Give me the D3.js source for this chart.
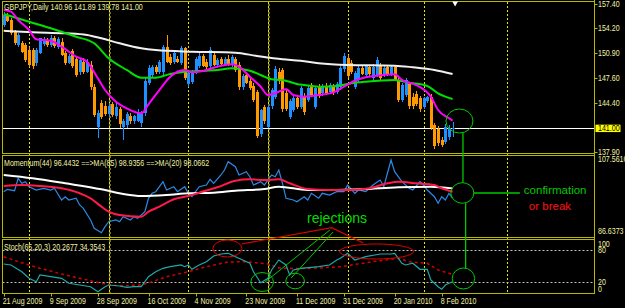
<!DOCTYPE html>
<html>
<head>
<meta charset="utf-8">
<script src="https://cdn.jsdelivr.net/npm/d3@7"></script>
<style>
  body { margin: 0; background: #000; }
  svg { display: block; }
</style>
</head>
<body>
<div id="graf"></div>
<script>
// GBPJPY daily candles, [open, high, low, close]
const ohlc = [
  [154.7,156.4,154.4,156.0],[155.9,156.3,155.0,155.2],[155.3,155.6,153.3,153.6],[153.7,154.0,152.0,152.3],
  [152.0,153.6,151.8,153.3],[152.3,152.6,150.9,151.1],[152.0,152.3,149.8,150.0],[151.4,151.8,149.1,149.4],
  [151.3,151.6,148.8,149.2],[149.6,151.6,149.3,151.3],[151.0,153.0,150.8,152.9],[152.2,153.1,151.9,152.7],
  [152.7,153.0,151.8,152.0],[152.0,153.3,151.7,153.0],[153.0,153.2,151.6,151.9],[151.8,153.1,151.5,152.8],
  [152.4,152.9,150.5,150.7],[150.9,151.2,149.4,149.7],[149.7,150.8,149.5,150.5],[151.2,151.5,149.0,149.2],
  [150.2,150.6,147.8,148.1],[148.4,150.2,148.1,150.0],[149.8,150.3,148.2,148.5],[148.5,150.1,148.3,149.8],
  [149.4,149.9,146.1,146.4],[146.4,146.8,142.5,142.8],[141.2,143.4,139.7,143.0],[144.3,144.7,142.2,142.5],
  [144.0,144.6,142.6,142.9],[142.9,144.3,142.5,144.0],[144.2,144.5,142.5,142.8],[142.6,144.3,142.2,143.8],
  [143.5,143.8,141.0,141.5],[141.2,142.2,139.5,141.9],[141.4,143.2,141.0,142.9],[142.6,143.0,141.6,141.9],
  [141.9,142.8,141.5,142.6],[142.0,143.5,141.8,143.1],[141.7,143.3,141.2,142.9],[143.0,147.6,142.6,147.3],
  [147.0,149.4,146.7,149.0],[148.0,149.4,147.8,149.1],[149.1,149.4,148.2,148.5],[148.5,150.0,148.2,149.8],
  [148.4,152.0,148.1,151.8],[151.8,153.3,149.6,149.8],[150.4,150.8,149.4,149.6],[149.8,151.3,149.5,151.0],
  [150.2,150.6,149.6,149.8],[149.7,151.9,149.4,151.6],[151.6,151.8,147.4,147.7],[146.8,148.6,146.4,148.3],
  [147.1,148.7,146.8,148.4],[148.5,150.4,148.2,150.2],[149.2,150.9,149.0,150.6],[150.5,150.8,149.1,149.3],
  [149.8,150.2,148.9,149.1],[149.2,151.7,148.9,151.4],[150.7,151.0,149.2,149.4],[149.4,150.3,149.1,150.0],
  [150.1,150.4,149.2,149.5],[149.4,150.4,149.2,150.1],[150.2,150.7,149.3,149.5],[149.4,150.7,149.1,150.4],
  [150.1,150.4,148.5,148.7],[149.4,149.8,146.1,146.4],[146.5,148.2,146.1,147.9],[148.0,148.3,146.8,147.0],
  [147.2,147.6,146.0,146.3],[146.6,147.0,144.5,144.8],[145.8,146.1,139.7,140.0],[140.3,143.6,139.8,143.4],
  [143.8,144.1,141.6,141.9],[141.2,144.1,141.0,143.8],[143.9,146.3,143.6,146.0],[145.2,149.3,144.9,148.9],
  [148.5,149.0,146.8,147.2],[148.7,149.0,143.2,143.5],[145.7,146.0,143.3,143.6],[142.5,144.9,142.2,144.6],
  [143.4,145.3,143.1,145.0],[145.0,145.3,143.5,143.8],[143.8,146.6,143.5,146.3],[145.2,145.6,142.8,143.1],
  [144.8,146.6,144.5,146.3],[146.7,147.0,145.1,145.4],[143.8,146.6,143.5,146.3],[146.6,146.9,145.0,145.3],
  [145.6,146.8,145.3,146.6],[146.6,147.0,145.4,145.6],[145.8,147.0,145.5,146.7],[146.6,146.9,145.4,145.7],
  [145.8,147.1,145.5,146.8],[146.5,149.3,146.2,149.0],[148.8,150.9,148.5,150.6],[150.3,150.7,147.6,147.9],
  [149.6,150.0,148.2,148.5],[146.5,148.6,146.2,148.3],[147.4,149.3,147.0,149.0],[149.0,149.3,148.0,148.2],
  [148.1,149.4,147.8,149.2],[149.1,149.4,147.9,148.2],[147.6,149.5,147.3,149.1],[148.0,150.4,147.8,150.0],
  [149.2,149.6,147.3,147.6],[148.0,149.2,147.8,149.0],[149.1,149.4,147.9,148.1],[148.1,149.3,147.9,149.1],
  [149.1,149.4,147.2,147.4],[147.4,147.7,144.5,144.8],[144.8,147.0,144.5,146.7],[145.4,147.7,145.1,147.4],
  [146.8,147.1,143.6,143.9],[145.2,145.6,143.6,143.9],[145.5,145.9,143.9,144.2],[145.0,145.3,143.2,143.5],
  [143.8,145.2,143.5,145.0],[144.6,145.3,144.3,145.1],[145.2,145.5,140.8,141.1],[141.4,141.7,138.3,138.7],
  [140.9,141.3,138.7,139.0],[139.5,139.9,138.5,138.8],[139.2,141.6,138.9,141.2],[139.8,141.4,139.5,141.0],
  [140.96,141.89,139.78,141.00]
];

// moving averages on price, [bar, value]
const maSlow = [[0,153.9],[8,153.7],[17,153.56],[23,153.34],[27,152.9],[32,152.24],[38,151.58],[42,151.35],
  [52,151.13],[64,151.0],[70,150.56],[77,150.12],[82,149.94],[87,149.6],[95,149.37],[108,149.28],
  [113,149.07],[119,148.71],[124,148.18]];
const maMid = [[0,156.12],[7,155.1],[13,154.23],[20,153.11],[25,152.24],[29,150.26],[34,148.71],[38,147.69],
  [42,147.69],[46,148.18],[50,148.48],[54,148.58],[59,148.71],[63,148.93],[68,148.62],[71,148.05],
  [74,147.48],[77,147.39],[81,146.86],[83,146.72],[87,146.5],[92,146.59],[96,146.95],[100,147.16],
  [108,147.39],[112,147.03],[117,146.59],[120,145.63],[124,144.87]];
const maFast = [[0,156.65],[2,156.42],[4,155.32],[7,154.0],[9,152.77],[13,152.59],[16,151.79],[20,150.47],
  [23,149.81],[26,147.61],[28,146.06],[31,144.52],[34,143.64],[38,142.98],[40,144.17],[43,146.06],
  [46,147.82],[48,148.48],[50,148.71],[52,148.4],[55,148.58],[59,149.15],[63,149.46],[65,149.15],
  [68,147.82],[71,146.5],[73,145.4],[75,145.63],[78,146.16],[80,145.4],[83,145.18],[87,145.4],
  [91,145.71],[94,146.5],[97,147.29],[100,147.74],[105,148.05],[108,148.14],[110,147.39],[114,146.72],
  [118,145.18],[120,143.42],[123,142.32],[124,142.0]];

// Momentum(44) and its averages
const momentum = [[0,98.08],[1,98.7],[3,98.34],[4,101.54],[5,100.25],[6,100.67],[7,99.37],[9,98.52],
  [11,98.96],[13,98.52],[14,98.96],[16,95.94],[17,96.79],[18,95.94],[20,96.38],[21,94.65],[22,93.79],
  [24,90.77],[25,88.63],[27,87.49],[28,89.04],[29,90.33],[31,90.77],[32,90.33],[33,91.63],[35,90.77],
  [36,91.63],[37,91.21],[39,92.92],[40,96.38],[41,97.67],[42,98.08],[44,100.67],[45,98.52],[47,99.37],
  [48,98.08],[50,99.37],[51,97.67],[52,96.79],[53,98.08],[54,99.37],[56,99.81],[57,101.29],[58,100.25],
  [60,102.4],[61,103.69],[62,105.83],[64,104.54],[65,102.4],[67,103.25],[68,101.96],[69,99.81],
  [71,100.67],[72,99.81],[74,102.4],[75,101.96],[76,103.69],[77,100.25],[78,96.38],[80,95.94],
  [81,95.5],[83,96.79],[84,95.94],[85,97.67],[87,96.38],[88,97.67],[90,97.23],[92,98.08],[94,98.08],
  [95,99.81],[97,97.67],[98,98.52],[100,98.08],[102,99.81],[104,101.1],[105,99.37],[106,102.84],
  [107,106.27],[108,103.25],[109,101.96],[110,100.67],[112,98.96],[113,98.52],[115,100.67],[116,99.81],
  [117,98.52],[119,96.79],[120,95.09],[121,96.79],[122,95.94],[123,97.67],[124,96.44]];
const momMA85 = [[0,102.4],[8,101.54],[17,100.25],[27,98.7],[33,97.49],[38,96.97],[45,97.23],[51,97.67],
  [58,97.82],[64,98.34],[72,98.78],[76,99.37],[84,98.52],[90,98.52],[99,98.7],[109,99.22],[118,99.37],
  [124,98.94]];
const momMA20 = [[0,99.56],[5,99.81],[10,99.56],[16,98.96],[21,97.67],[24,96.38],[27,94.21],[29,92.92],
  [32,92.06],[38,91.63],[40,92.92],[43,94.21],[47,96.12],[51,96.97],[54,97.82],[59,99.22],[64,100.92],
  [68,101.29],[72,101.1],[76,101.29],[79,100.25],[84,98.78],[90,98.52],[96,98.52],[101,98.96],
  [106,100.25],[109,100.67],[114,100.25],[119,99.81],[121,98.96],[124,98.07]];
const momRange = [86.6373, 107.5616];

// Stochastic(65,20,3)
const stochMain = [[0,53.7],[2,51.9],[5,39.3],[7,27],[9,20.6],[10,33.1],[13,30],[16,27],[18,17.6],
  [21,14.4],[24,11.2],[26,1.9],[28,11.2],[29,14.4],[32,12.5],[34,10.1],[36,11.2],[38,11.2],[40,30],
  [42,39.3],[44,45.7],[46,48.7],[49,51.9],[50,48.7],[51,51.9],[52,43.8],[54,51.9],[56,58.1],[58,68.7],
  [60,72.5],[62,73.8],[64,67.4],[66,61.2],[68,55.1],[69,39.3],[71,18.7],[73,27],[74,42.5],[76,61.2],
  [78,51.9],[79,33],[80,42.5],[82,45.7],[85,47.6],[87,48.7],[90,51.9],[92,61.2],[93,64.4],[95,73.8],
  [97,61.2],[100,67.4],[104,72.5],[107,72.5],[108,73.8],[110,55.1],[111,51.9],[113,55.1],[115,43.8],
  [117,43.8],[118,23.8],[120,11.2],[121,6.4],[122,14.4],[123,17.6],[124,20.27]];
const stochSignal = [[0,67.4],[4,58.1],[10,45.7],[16,35],[21,27],[27,17.6],[32,12.5],[38,14.4],[41,20.6],
  [45,30],[51,39.3],[56,48.7],[62,57.5],[67,58.1],[73,53.7],[76,46.3],[81,45.3],[87,46.3],[93,48.7],
  [102,58.1],[109,64.4],[112,58.1],[117,55.1],[120,42.5],[123,36.3],[124,34.35]];
const stochLevels = [20, 80];
const stochTicks = [100, 80, 20, 0];

// axes
const priceTicks = [157.40, 154.20, 150.90, 147.60, 144.40, 137.90];
const lastPrice = 141.00;
const dateLabels = ["21 Aug 2009","9 Sep 2009","28 Sep 2009","16 Oct 2009","4 Nov 2009",
  "23 Nov 2009","11 Dec 2009","31 Dec 2009","20 Jan 2010","8 Feb 2010"];
const dateBars = [0, 13, 26, 40, 53, 67, 81, 94, 108, 121];
const monthBars = [7, 29, 51, 73, 95, 116, 139];

const titleText = "GBPJPY,Daily  140.96 141.89 139.78 141.00";
const momText = "Momentum(44) 96.4432  ==>MA(85) 98.9356  ==>MA(20) 98.0662";
const stochText = "Stoch(65,20,3) 20.2677 34.3543";

const width = 625, height = 308;
const left = 2.5, right = 594.5;
const pane = {
  price: {top: 1.5, bottom: 153.5},
  mom: {top: 155.5, bottom: 237.5},
  stoch: {top: 239.5, bottom: 293.5}
};
const frameCol = "#b8b800", textCol = "#f2f2a6";
const bullCol = "#1e90ff", bearCol = "#ff9900";

const x = d3.scaleLinear().domain([0, 163]).range([3.7, 593.76]);
const yP = d3.scaleLinear().domain([137.9, 157.4]).range([151.7, 4.3]);
const yM = d3.scaleLinear().domain(momRange).range([236, 155]);
const yS = d3.scaleLinear().domain([0, 100]).range([292.7, 239.3]);

const svg = d3.select("#graf").append("svg")
    .attr("width", width).attr("height", height)
    .style("background", "#000");

const defs = svg.append("defs");
Object.entries(pane).forEach(([k, p]) => {
  defs.append("clipPath").attr("id", "clip-" + k)
    .append("rect").attr("x", left).attr("y", p.top)
    .attr("width", right - left).attr("height", p.bottom - p.top);
});

// squeeze MT4 style system text a bit narrower
const squeeze = (sel, k = 0.83) => sel.each(function () {
  const w = this.getComputedTextLength();
  this.setAttribute("textLength", w * k);
  this.setAttribute("lengthAdjust", "spacingAndGlyphs");
});
const label = (g, txt, px, py, col = textCol, anchor = "start") => g.append("text")
    .attr("x", px).attr("y", py).attr("dy", "0.35em")
    .attr("fill", col).attr("text-anchor", anchor)
    .attr("font-family", "Liberation Sans, Arial, sans-serif").attr("font-size", 8.5)
    .text(txt).call(squeeze);

// period separators
const sep = svg.append("g").attr("shape-rendering", "crispEdges");
sep.selectAll("line.olive").data([monthBars[1], monthBars[3]]).join("line")
    .attr("x1", d => Math.round(x(d)) + 0.5).attr("x2", d => Math.round(x(d)) + 0.5)
    .attr("y1", pane.price.top).attr("y2", pane.stoch.bottom)
    .attr("stroke", "#77771a").attr("stroke-width", 2)
    .attr("stroke-dasharray", "2,2").attr("stroke-dashoffset", 2);
sep.selectAll("line.sep").data(monthBars).join("line")
    .attr("x1", d => Math.round(x(d)) + 0.5).attr("x2", d => Math.round(x(d)) + 0.5)
    .attr("y1", pane.price.top).attr("y2", pane.stoch.bottom)
    .attr("stroke", "#e6e600").attr("stroke-dasharray", "2,2");

// ---- price pane
const gp = svg.append("g").attr("clip-path", "url(#clip-price)");
const line = (xs, ys) => d3.line().x(d => xs(d[0])).y(d => ys(d[1]));

gp.append("line")
    .attr("x1", left).attr("x2", right)
    .attr("y1", Math.round(yP(lastPrice)) + 0.5).attr("y2", Math.round(yP(lastPrice)) + 0.5)
    .attr("stroke", "#fff");

const candles = gp.append("g").attr("shape-rendering", "crispEdges");
candles.selectAll("line").data(ohlc).join("line")
    .attr("x1", (d, i) => Math.round(x(i)) + 0.5).attr("x2", (d, i) => Math.round(x(i)) + 0.5)
    .attr("y1", d => yP(d[1])).attr("y2", d => yP(d[2]))
    .attr("stroke", d => d[3] >= d[0] ? bullCol : bearCol);
candles.selectAll("rect").data(ohlc).join("rect")
    .attr("x", (d, i) => Math.round(x(i)) - 1).attr("width", 3)
    .attr("y", d => yP(Math.max(d[0], d[3])))
    .attr("height", d => Math.max(1, yP(Math.min(d[0], d[3])) - yP(Math.max(d[0], d[3]))))
    .attr("fill", d => d[3] >= d[0] ? bullCol : bearCol);

[[maSlow, "#f0f0f0"], [maMid, "#00e000"], [maFast, "#ff00ff"]].forEach(([s, c]) => {
  gp.append("path").attr("d", line(x, yP).curve(d3.curveMonotoneX)(s))
    .attr("fill", "none").attr("stroke", c).attr("stroke-width", 2);
});

// ---- momentum pane
const gm = svg.append("g").attr("clip-path", "url(#clip-mom)");
gm.append("path").attr("d", line(x, yM)(momentum))
    .attr("fill", "none").attr("stroke", "#2b8ae6").attr("stroke-width", 1.2);
gm.append("path").attr("d", line(x, yM).curve(d3.curveMonotoneX)(momMA85))
    .attr("fill", "none").attr("stroke", "#ffffff").attr("stroke-width", 2);
gm.append("path").attr("d", line(x, yM).curve(d3.curveMonotoneX)(momMA20))
    .attr("fill", "none").attr("stroke", "#ff1a4a").attr("stroke-width", 2);

// ---- stochastic pane
const gs = svg.append("g").attr("clip-path", "url(#clip-stoch)");
gs.selectAll("line").data(stochLevels).join("line")
    .attr("x1", left).attr("x2", right)
    .attr("y1", d => Math.round(yS(d)) + 0.5).attr("y2", d => Math.round(yS(d)) + 0.5)
    .attr("stroke", "#c0c0c0").attr("stroke-dasharray", "2,2");
gs.append("path").attr("d", line(x, yS)(stochSignal))
    .attr("fill", "none").attr("stroke", "#d40000").attr("stroke-width", 1.5)
    .attr("stroke-dasharray", "3,3");
gs.append("path").attr("d", line(x, yS)(stochMain))
    .attr("fill", "none").attr("stroke", "#20a8a8").attr("stroke-width", 1.2);

// ---- frames and axes
const frame = svg.append("g").attr("fill", "none").attr("stroke", frameCol)
    .attr("shape-rendering", "crispEdges");
Object.values(pane).forEach(p => {
  frame.append("rect").attr("x", left).attr("y", p.top)
    .attr("width", right - left).attr("height", p.bottom - p.top);
});
frame.append("line").attr("x1", right).attr("x2", right).attr("y1", 0).attr("y2", pane.stoch.bottom);

const ax = svg.append("g");
priceTicks.forEach(v => {
  ax.append("line").attr("x1", right).attr("x2", right + 3)
    .attr("y1", Math.round(yP(v)) + 0.5).attr("y2", Math.round(yP(v)) + 0.5).attr("stroke", frameCol);
  label(ax, v.toFixed(2), right + 3.5, yP(v));
});
ax.append("rect").attr("x", right + 1).attr("y", yP(lastPrice) - 3.6)
    .attr("width", 25).attr("height", 7.4).attr("fill", "#ffff00");
label(ax, lastPrice.toFixed(2), right + 3.5, yP(lastPrice), "#000");

label(ax, momRange[1].toFixed(4), right + 3.5, yM(momRange[1]) + 4);
label(ax, momRange[0].toFixed(4), right + 3.5, yM(momRange[0]) - 5);

stochTicks.forEach(v => {
  const py = v === 100 ? yS(v) + 4.5 : v === 0 ? yS(v) - 4 : yS(v);
  label(ax, String(v), right + 3.5, py);
});

dateBars.forEach((b, k) => {
  ax.append("line").attr("x1", Math.round(x(b)) + 0.5).attr("x2", Math.round(x(b)) + 0.5)
    .attr("y1", pane.stoch.bottom).attr("y2", pane.stoch.bottom + 3).attr("stroke", frameCol);
  label(ax, dateLabels[k], Math.max(1.5, x(b) - 1), 301);
});

label(ax, titleText, 4, 7.3);
label(ax, momText, 4, 163.3);
label(ax, stochText, 4, 246.7);

// shift marker
ax.append("path").attr("d", d3.symbol(d3.symbolTriangle, 14)())
    .attr("transform", `translate(${x(124.7)},3.2) rotate(180)`).attr("fill", "#fff");

// ---- annotations drawn on the chart
const green = "#00c800", red = "#e00000";
const ann = svg.append("g").attr("fill", "none");

const ringTop = [125.9, 141.96], ringMom = [126.7, 97.75], ringSt = [127, 26.6];
const ringRej1 = [71.4, 20], ringRej2 = [80.5, 21.9];
const redOval1 = [61.8, 82.8], redOval2 = [103, 77.2];

ann.append("ellipse").attr("cx", x(ringTop[0])).attr("cy", yP(ringTop[1])).attr("rx", 13.5).attr("ry", 12)
    .attr("stroke", green);
ann.append("ellipse").attr("cx", x(ringMom[0])).attr("cy", yM(ringMom[1])).attr("rx", 11.5).attr("ry", 10.3)
    .attr("stroke", green);
ann.append("ellipse").attr("cx", x(ringSt[0])).attr("cy", yS(ringSt[1])).attr("rx", 11.2).attr("ry", 10.5)
    .attr("stroke", green);
ann.append("ellipse").attr("cx", x(ringRej1[0])).attr("cy", yS(ringRej1[1])).attr("rx", 11.3).attr("ry", 9.5)
    .attr("stroke", green);
ann.append("ellipse").attr("cx", x(ringRej2[0])).attr("cy", yS(ringRej2[1])).attr("rx", 9.3).attr("ry", 7.8)
    .attr("stroke", green);

// connectors between the three rings
ann.append("line").attr("x1", x(ringTop[0]) + 3.5).attr("x2", x(ringTop[0]) + 3.5)
    .attr("y1", yP(ringTop[1]) + 12).attr("y2", yM(ringMom[1]) - 10.3).attr("stroke", green).attr("stroke-width", 1.3);
ann.append("line").attr("x1", x(ringMom[0]) + 3.3).attr("x2", x(ringMom[0]) + 3.3)
    .attr("y1", yM(ringMom[1]) + 10.3).attr("y2", yS(ringSt[1]) - 10.5).attr("stroke", green).attr("stroke-width", 1.3);
ann.append("line").attr("x1", x(ringMom[0]) + 11.5).attr("x2", x(ringMom[0]) + 57.5)
    .attr("y1", yM(ringMom[1])).attr("y2", yM(ringMom[1])).attr("stroke", green).attr("stroke-width", 1.3);

ann.append("text").attr("x", x(ringMom[0]) + 61.5).attr("y", yM(98.52)).attr("dy", "0.35em")
    .attr("fill", green).attr("font-family", "Liberation Sans, Arial, sans-serif").attr("font-size", 11.5)
    .text("confirmation");
ann.append("text").attr("x", x(ringMom[0]) + 66.5).attr("y", yM(94.47)).attr("dy", "0.35em")
    .attr("fill", "#ff1010").attr("font-family", "Liberation Sans, Arial, sans-serif").attr("font-size", 11.5)
    .text("or break");

// rejections
ann.append("ellipse").attr("cx", x(redOval1[0])).attr("cy", yS(redOval1[1])).attr("rx", 14.5).attr("ry", 8.5)
    .attr("stroke", red);
ann.append("ellipse").attr("cx", x(redOval2[0])).attr("cy", yS(redOval2[1])).attr("rx", 37).attr("ry", 7.5)
    .attr("stroke", red);
ann.append("path")
    .attr("d", line(x, yS)([[65.7, 91.2], [90.6, 121.7], [99.3, 93]]))
    .attr("stroke", red).attr("stroke-width", 1.2);
ann.append("path")
    .attr("d", line(x, yS)([[72.2, 20], [90.1, 117.4]]))
    .attr("stroke", green);
ann.append("path")
    .attr("d", line(x, yS)([[79.4, 27.5], [91, 113.7]]))
    .attr("stroke", green);
ann.append("text").attr("x", x(83.8)).attr("y", yM(91.37)).attr("dy", "0.35em")
    .attr("fill", "#00dd00").attr("font-family", "Liberation Sans, Arial, sans-serif").attr("font-size", 14)
    .text("rejections");
</script>
</body>
</html>
